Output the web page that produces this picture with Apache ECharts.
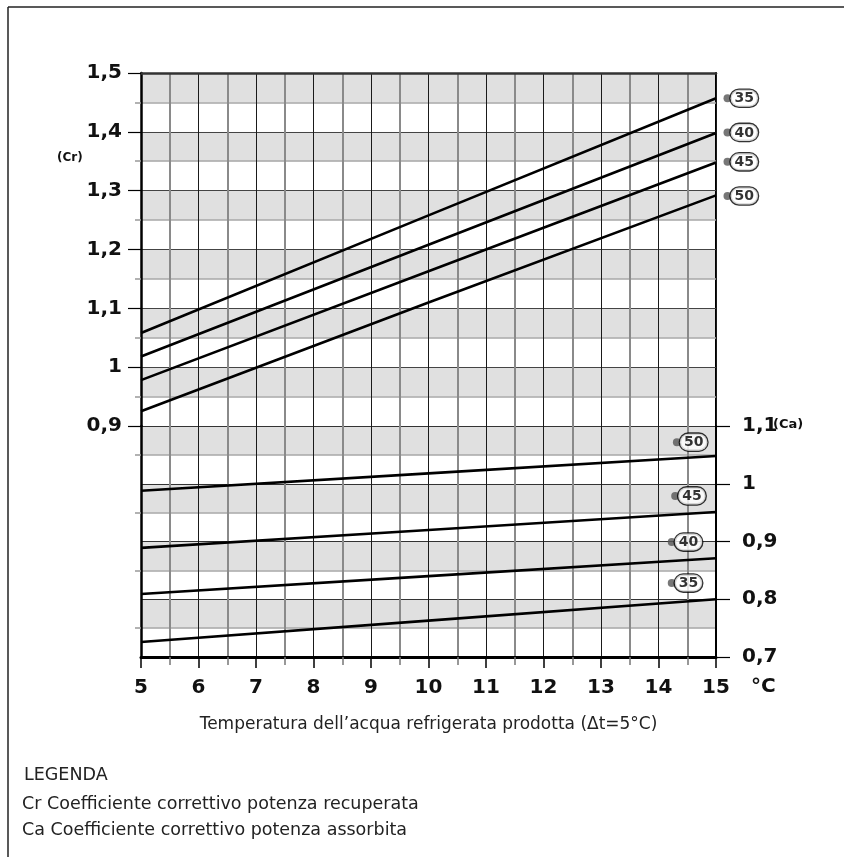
<!DOCTYPE html>
<html><head><meta charset="utf-8">
<script src="https://cdn.jsdelivr.net/npm/echarts@6/dist/echarts.min.js"></script>
<style>html,body{margin:0;padding:0;background:#fff}#c{width:844px;height:857px}</style>
</head><body><div id="c"></div>
<script>
// ---- data ----
const xValues = [5, 10, 15];
const xTicks = [5, 6, 7, 8, 9, 10, 11, 12, 13, 14, 15];
const curveNames = ['35', '40', '45', '50'];
// Cr (top panel)
const cr35 = [1.058, 1.258, 1.457];
const cr40 = [1.018, 1.208, 1.398];
const cr45 = [0.978, 1.163, 1.348];
const cr50 = [0.925, 1.110, 1.292];
// Ca (bottom panel)
const ca35 = [0.726, 0.763, 0.800];
const ca40 = [0.809, 0.840, 0.871];
const ca45 = [0.889, 0.920, 0.951];
const ca50 = [0.988, 1.018, 1.048];
// tag anchor points (data space)
const crTags = [[15.2, 1.457, '35'], [15.2, 1.399, '40'], [15.2, 1.349, '45'], [15.2, 1.291, '50']];
const caTags = [[14.32, 1.072, '50'], [14.29, 0.979, '45'], [14.23, 0.899, '40'], [14.23, 0.828, '35']];
const crTicks = [0.9, 1.0, 1.1, 1.2, 1.3, 1.4, 1.5];
const caTicks = [0.7, 0.8, 0.9, 1.0, 1.1];

const FONT = 'DejaVu Sans';
const fmt = v => (Math.round(v * 10) / 10).toString().replace('.', ',');

const chart = echarts.init(document.getElementById('c'), null, {renderer: 'canvas'});

function pairs(ys) { return xValues.map((x, i) => [x, ys[i]]); }

const lineStyleCurve = {color: '#000', width: 2.6};
function curve(name, ys, xi, yi) {
  return {type: 'line', name: name, xAxisIndex: xi, yAxisIndex: yi, data: pairs(ys),
    showSymbol: false, symbol: 'none', lineStyle: lineStyleCurve, z: 4, silent: true, animation: false};
}
function tags(data, xi, yi) {
  return {type: 'scatter', xAxisIndex: xi, yAxisIndex: yi, data: data, clip: false,
    symbolSize: 8, itemStyle: {color: '#555'}, z: 6, silent: true, animation: false,
    label: {show: true, position: 'right', distance: -1,
      formatter: p => '{e|' + p.value[2] + '}',
      rich: {e: {fontFamily: FONT, fontSize: 14, fontWeight: 'bold', color: '#000',
        backgroundColor: '#fff', borderColor: '#000', borderWidth: 1.3, borderRadius: 9,
        padding: [2, 4, 1, 4]}}}};
}

const splitMajor = {show: true, lineStyle: {color: '#1a1a1a', width: 1}};
const splitMinorV = {show: true, lineStyle: {color: '#8a8a8a', width: 2}};
const splitMinorH = {show: true, lineStyle: {color: '#a8a8a8', width: 1.5}};
const bands = ['#ffffff', '#e0e0e0'];
const labelFont = {fontFamily: FONT, fontSize: 20, fontWeight: 'bold', color: '#111'};

const option = {
  animation: false,
  backgroundColor: '#fff',
  grid: [
    {left: 141, right: 128, top: 73, height: 353},
    {left: 141, right: 128, top: 426, height: 231}
  ],
  xAxis: [
    {gridIndex: 0, type: 'value', min: 5, max: 15, interval: 1, position: 'top',
      axisLine: {show: true, lineStyle: {color: '#333', width: 2.5}},
      axisTick: {show: false}, axisLabel: {show: false},
      minorTick: {show: false, splitNumber: 2},
      splitLine: splitMajor, minorSplitLine: splitMinorV},
    {gridIndex: 1, type: 'value', min: 5, max: 15, interval: 1, position: 'bottom',
      axisLine: {show: true, onZero: false, lineStyle: {color: '#000', width: 3}},
      axisTick: {show: true, length: 11, lineStyle: {color: '#000', width: 1.5}},
      minorTick: {show: true, splitNumber: 2, length: 8, lineStyle: {color: '#777', width: 1.5}},
      axisLabel: Object.assign({margin: 21, customValues: xTicks}, labelFont),
      splitLine: splitMajor, minorSplitLine: splitMinorV,
      name: 'Temperatura dell\u2019acqua refrigerata prodotta (\u0394t=5\u00b0C)',
      nameLocation: 'middle', nameGap: 59, nameMoveOverlap: false,
      nameTextStyle: {fontFamily: FONT, fontSize: 17, color: '#222'}}
  ],
  yAxis: [
    {gridIndex: 0, type: 'value', min: 0.9, max: 1.5, interval: 0.1, position: 'left',
      axisLine: {show: true, onZero: false, lineStyle: {color: '#000', width: 2.5}},
      axisTick: {show: true, length: 13, lineStyle: {color: '#000', width: 1.2}},
      minorTick: {show: true, splitNumber: 2, length: 6, lineStyle: {color: '#999', width: 1.5}},
      axisLabel: Object.assign({margin: 19, formatter: fmt}, labelFont),
      splitLine: {show: true, lineStyle: {color: '#444', width: 1}}, minorSplitLine: splitMinorH},
    {gridIndex: 0, type: 'value', min: 0.9, max: 1.5, interval: 0.05, position: 'right', z: -1,
      axisLine: {show: true, onZero: false, lineStyle: {color: '#000', width: 2}},
      axisTick: {show: false}, axisLabel: {show: false}, splitLine: {show: false},
      splitArea: {show: true, areaStyle: {color: bands}}},
    {gridIndex: 1, type: 'value', min: 0.7, max: 1.1, interval: 0.1, position: 'right',
      axisLine: {show: true, onZero: false, lineStyle: {color: '#000', width: 2}},
      axisTick: {show: true, length: 14, lineStyle: {color: '#000', width: 1.2}},
      minorTick: {show: false, splitNumber: 2},
      axisLabel: Object.assign({margin: 26, formatter: fmt}, labelFont),
      splitLine: {show: true, lineStyle: {color: '#333', width: 1}}, minorSplitLine: splitMinorH},
    {gridIndex: 1, type: 'value', min: 0.7, max: 1.1, interval: 0.1, position: 'left',
      axisLine: {show: true, onZero: false, lineStyle: {color: '#000', width: 2.5}},
      axisTick: {show: false},
      minorTick: {show: true, splitNumber: 2, length: 6, lineStyle: {color: '#999', width: 1.5}},
      axisLabel: {show: false}, splitLine: {show: false}},
    {gridIndex: 1, type: 'value', min: 0.7, max: 1.1, interval: 0.05, position: 'left', z: -1,
      axisLine: {show: false}, axisTick: {show: false}, axisLabel: {show: false}, splitLine: {show: false},
      splitArea: {show: true, areaStyle: {color: bands}}}
  ],
  series: [
    curve(curveNames[0], cr35, 0, 0), curve(curveNames[1], cr40, 0, 0),
    curve(curveNames[2], cr45, 0, 0), curve(curveNames[3], cr50, 0, 0),
    curve(curveNames[0], ca35, 1, 2), curve(curveNames[1], ca40, 1, 2),
    curve(curveNames[2], ca45, 1, 2), curve(curveNames[3], ca50, 1, 2),
    tags(crTags, 0, 0), tags(caTags, 1, 2)
  ],
  graphic: [
    {type: 'line', shape: {x1: 8, y1: 7, x2: 844, y2: 7}, style: {stroke: '#222', lineWidth: 1.5}},
    {type: 'line', shape: {x1: 8, y1: 7, x2: 8, y2: 857}, style: {stroke: '#222', lineWidth: 1.5}},
    {type: 'text', left: 57, top: 152, style: {text: '(Cr)', fontFamily: FONT, fontSize: 12, fontWeight: 'bold', fill: '#111'}},
    {type: 'text', left: 773, top: 418, style: {text: '(Ca)', fontFamily: FONT, fontSize: 13, fontWeight: 'bold', fill: '#111'}},
    {type: 'text', left: 751, top: 677, style: {text: '\u00b0C', fontFamily: FONT, fontSize: 20, fontWeight: 'bold', fill: '#111'}},
    {type: 'text', left: 24, top: 766, style: {text: 'LEGENDA', fontFamily: FONT, fontSize: 17.5, fill: '#222'}},
    {type: 'text', left: 22, top: 795, style: {text: 'Cr Coefficiente correttivo potenza recuperata', fontFamily: FONT, fontSize: 17.5, fill: '#222'}},
    {type: 'text', left: 22, top: 821, style: {text: 'Ca Coefficiente correttivo potenza assorbita', fontFamily: FONT, fontSize: 17.5, fill: '#222'}}
  ]
};
chart.setOption(option);
</script>
</body></html>
